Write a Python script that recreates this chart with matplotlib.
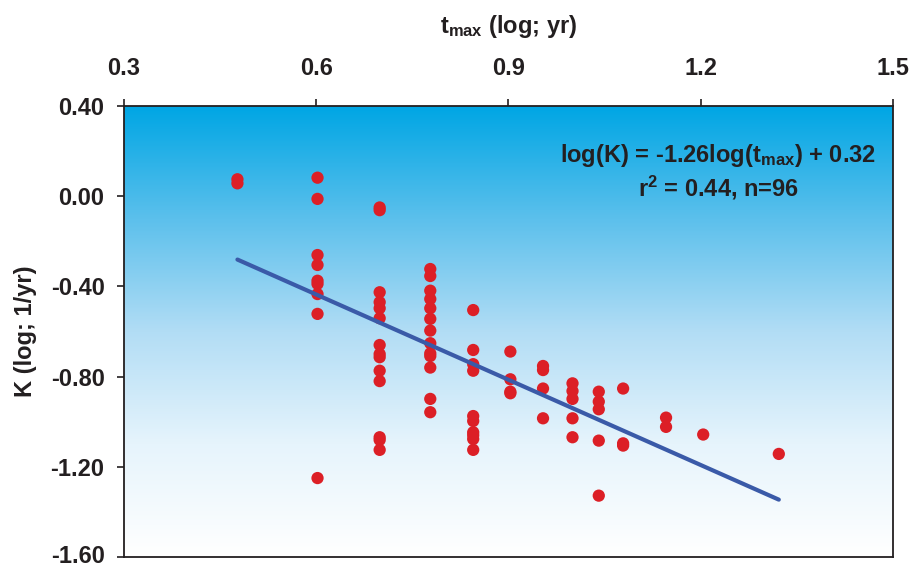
import matplotlib
matplotlib.use("Agg")
import matplotlib.pyplot as plt
import matplotlib.transforms as mtransforms
import numpy as np
from matplotlib.colors import LinearSegmentedColormap

plt.rcParams['font.family'] = ['Liberation Sans', 'DejaVu Sans']
plt.rcParams['font.weight'] = 'bold'
plt.rcParams['mathtext.fontset'] = 'custom'
plt.rcParams['mathtext.rm'] = 'Liberation Sans:bold'
plt.rcParams['mathtext.bf'] = 'Liberation Sans:bold'
plt.rcParams['mathtext.it'] = 'Liberation Sans:bold'

# data (log10 tmax, log10 K)
tmax_log = ([0.477] * 2 + [0.602] * 9 + [0.699] * 14 + [0.778] * 13 + [0.845] * 10
            + [0.903] * 4 + [0.954] * 4 + [1.0] * 5 + [1.041] * 5 + [1.079] * 3
            + [1.146] * 2 + [1.204] + [1.322])
k_log = [0.075, 0.057,
         0.082, -0.012, -0.261, -0.305, -0.375, -0.389, -0.434, -0.522, -1.25,
         -0.05, -0.062, -0.426, -0.47, -0.497, -0.541, -0.66, -0.70, -0.714, -0.774,
         -0.82, -1.069, -1.081, -1.125,
         -0.323, -0.354, -0.419, -0.456, -0.497, -0.544, -0.596, -0.652, -0.697,
         -0.709, -0.76, -0.899, -0.958,
         -0.505, -0.682, -0.745, -0.774, -0.975, -0.997, -1.047, -1.077, -1.125, -1.06,
         -0.689, -0.812, -0.867, -0.874,
         -0.753, -0.771, -0.853, -0.985,
         -0.83, -0.864, -0.899, -0.985, -1.069,
         -0.867, -0.911, -0.945, -1.084, -1.328,
         -0.853, -1.096, -1.106,
         -0.982, -1.023,
         -1.057,
         -1.143]

slope = -1.26
intercept = 0.32

x_ticks = [0.3, 0.6, 0.9, 1.2, 1.5]
y_ticks = [0.40, 0.00, -0.40, -0.80, -1.20, -1.60]

fig = plt.figure(figsize=(9.12, 5.68), dpi=100)
ax = fig.add_axes([0.136, 0.0194, 0.843, 0.794])

# background gradient, blue at top fading to white
cmap = LinearSegmentedColormap.from_list(
    'bg', [(0.0, '#00a6e4'), (0.25, '#5cc0ec'), (0.5, '#b2ddf5'),
           (0.75, '#e6f4fc'), (1.0, '#ffffff')])
grad = np.linspace(0, 1, 256).reshape(-1, 1)
ax.imshow(grad, cmap=cmap, aspect='auto', extent=[0, 1, 0, 1],
          transform=ax.transAxes, zorder=0)

ax.scatter(tmax_log, k_log, s=78, color='#dc1f26', edgecolors='none', zorder=2)

xl = np.array([min(tmax_log), max(tmax_log)])
ax.plot(xl, slope * xl + intercept, color='#3a5aa8', lw=3.0,
        solid_capstyle='round', zorder=3)

ax.set_xlim(0.3, 1.5)
ax.set_ylim(-1.6, 0.4)
ax.xaxis.tick_top()
ax.xaxis.set_label_position('top')
ax.set_xticks(x_ticks)
ax.set_xticklabels([f'{v:.1f}' for v in x_ticks])
ax.set_yticks(y_ticks)
ax.set_yticklabels([f'{v:.2f}' for v in y_ticks])
ax.tick_params(axis='x', direction='out', length=5, width=1.2, pad=14,
               labelsize=17, colors='#231f20')
ax.tick_params(axis='y', direction='out', length=5, width=1.2, pad=9,
               labelsize=17, colors='#231f20')
for sp in ax.spines.values():
    sp.set_color('#231f20')
    sp.set_linewidth(1.3)

# nudge the bottom tick label up a hair so it stays inside the figure
lowest = ax.get_yticklabels()[-1]
lowest.set_transform(lowest.get_transform()
                     + mtransforms.ScaledTranslation(0, 2 / 72, fig.dpi_scale_trans))

ax.set_xlabel(r'$\mathbf{t_{max}}$ (log; yr)', fontsize=17, fontweight='bold',
              color='#231f20', labelpad=17)
ax.set_ylabel('K (log; 1/yr)', fontsize=17, fontweight='bold',
              color='#231f20', labelpad=10)

ax.text(0.773, 0.891, r'log(K) = -1.26log($\mathbf{t_{max}}$) + 0.32', transform=ax.transAxes,
        ha='center', va='center', fontsize=17, fontweight='bold', color='#231f20')
ax.text(0.773, 0.818, r'$\mathbf{r^2}$ = 0.44, n=96', transform=ax.transAxes,
        ha='center', va='center', fontsize=17, fontweight='bold', color='#231f20')

fig.savefig('out.png', dpi=100)
